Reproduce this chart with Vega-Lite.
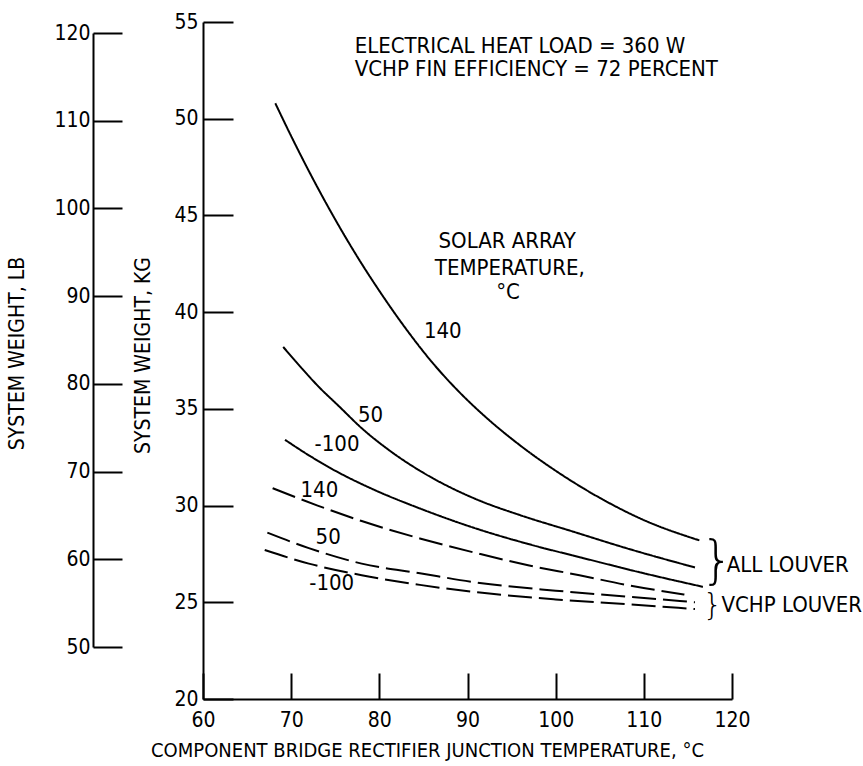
{
  "$schema": "https://vega.github.io/schema/vega-lite/v6.json",
  "width": 529,
  "height": 677,
  "autosize": {"type": "none"},
  "padding": {"left": 203, "top": 22, "right": 131, "bottom": 67},
  "background": "white",
  "config": {
    "view": {"stroke": null},
    "font": "Liberation Sans Narrow, DejaVu Sans Condensed, Liberation Sans, sans-serif",
    "axis": {
      "grid": false,
      "domainColor": "black",
      "domainWidth": 2,
      "tickColor": "black",
      "tickWidth": 2,
      "labelColor": "black",
      "labelFontSize": 21,
      "labelFlush": false,
      "titleColor": "black",
      "titleFontSize": 21,
      "titleFontWeight": "normal",
      "labelFont": "Liberation Sans Narrow, DejaVu Sans Condensed, Liberation Sans, sans-serif",
      "titleFont": "Liberation Sans Narrow, DejaVu Sans Condensed, Liberation Sans, sans-serif"
    },
    "text": {"font": "Liberation Sans Narrow, DejaVu Sans Condensed, Liberation Sans, sans-serif", "fontSize": 21, "color": "black"}
  },
  "datasets": {
    "curves": [
      {"s": "A140", "louver": "ALL", "temp": 68.2, "kg": 50.8},
      {"s": "A140", "louver": "ALL", "temp": 70.0, "kg": 49.1},
      {"s": "A140", "louver": "ALL", "temp": 72.0, "kg": 47.3},
      {"s": "A140", "louver": "ALL", "temp": 74.0, "kg": 45.6},
      {"s": "A140", "louver": "ALL", "temp": 76.0, "kg": 44.0},
      {"s": "A140", "louver": "ALL", "temp": 78.0, "kg": 42.5},
      {"s": "A140", "louver": "ALL", "temp": 80.0, "kg": 41.1},
      {"s": "A140", "louver": "ALL", "temp": 83.0, "kg": 39.15},
      {"s": "A140", "louver": "ALL", "temp": 86.0, "kg": 37.4},
      {"s": "A140", "louver": "ALL", "temp": 89.0, "kg": 35.9},
      {"s": "A140", "louver": "ALL", "temp": 92.0, "kg": 34.6},
      {"s": "A140", "louver": "ALL", "temp": 96.0, "kg": 33.1},
      {"s": "A140", "louver": "ALL", "temp": 100.0, "kg": 31.8},
      {"s": "A140", "louver": "ALL", "temp": 105.0, "kg": 30.4},
      {"s": "A140", "louver": "ALL", "temp": 110.0, "kg": 29.25},
      {"s": "A140", "louver": "ALL", "temp": 116.3, "kg": 28.2},
      {"s": "A50", "louver": "ALL", "temp": 69.1, "kg": 38.2},
      {"s": "A50", "louver": "ALL", "temp": 71.0, "kg": 37.2},
      {"s": "A50", "louver": "ALL", "temp": 73.0, "kg": 36.2},
      {"s": "A50", "louver": "ALL", "temp": 75.5, "kg": 35.1},
      {"s": "A50", "louver": "ALL", "temp": 78.0, "kg": 34.0},
      {"s": "A50", "louver": "ALL", "temp": 81.0, "kg": 32.9},
      {"s": "A50", "louver": "ALL", "temp": 84.6, "kg": 31.8},
      {"s": "A50", "louver": "ALL", "temp": 88.0, "kg": 30.95},
      {"s": "A50", "louver": "ALL", "temp": 91.4, "kg": 30.25},
      {"s": "A50", "louver": "ALL", "temp": 96.0, "kg": 29.5},
      {"s": "A50", "louver": "ALL", "temp": 102.0, "kg": 28.65},
      {"s": "A50", "louver": "ALL", "temp": 108.0, "kg": 27.8},
      {"s": "A50", "louver": "ALL", "temp": 115.8, "kg": 26.8},
      {"s": "A-100", "louver": "ALL", "temp": 69.3, "kg": 33.4},
      {"s": "A-100", "louver": "ALL", "temp": 72.0, "kg": 32.6},
      {"s": "A-100", "louver": "ALL", "temp": 75.0, "kg": 31.8},
      {"s": "A-100", "louver": "ALL", "temp": 79.0, "kg": 30.9},
      {"s": "A-100", "louver": "ALL", "temp": 84.6, "kg": 29.85},
      {"s": "A-100", "louver": "ALL", "temp": 91.4, "kg": 28.75},
      {"s": "A-100", "louver": "ALL", "temp": 97.0, "kg": 28.0},
      {"s": "A-100", "louver": "ALL", "temp": 103.0, "kg": 27.3},
      {"s": "A-100", "louver": "ALL", "temp": 110.0, "kg": 26.5},
      {"s": "A-100", "louver": "ALL", "temp": 116.7, "kg": 25.8},
      {"s": "V140", "louver": "VCHP", "temp": 67.9, "kg": 30.9},
      {"s": "V140", "louver": "VCHP", "temp": 73.0, "kg": 30.0},
      {"s": "V140", "louver": "VCHP", "temp": 78.0, "kg": 29.2},
      {"s": "V140", "louver": "VCHP", "temp": 84.6, "kg": 28.3},
      {"s": "V140", "louver": "VCHP", "temp": 91.4, "kg": 27.5},
      {"s": "V140", "louver": "VCHP", "temp": 97.0, "kg": 26.9},
      {"s": "V140", "louver": "VCHP", "temp": 102.7, "kg": 26.4},
      {"s": "V140", "louver": "VCHP", "temp": 108.0, "kg": 25.9},
      {"s": "V140", "louver": "VCHP", "temp": 114.6, "kg": 25.4},
      {"s": "V50", "louver": "VCHP", "temp": 67.3, "kg": 28.6},
      {"s": "V50", "louver": "VCHP", "temp": 72.0, "kg": 27.8},
      {"s": "V50", "louver": "VCHP", "temp": 78.0, "kg": 27.0},
      {"s": "V50", "louver": "VCHP", "temp": 84.6, "kg": 26.5},
      {"s": "V50", "louver": "VCHP", "temp": 91.4, "kg": 26.0},
      {"s": "V50", "louver": "VCHP", "temp": 100.0, "kg": 25.6},
      {"s": "V50", "louver": "VCHP", "temp": 108.0, "kg": 25.3},
      {"s": "V50", "louver": "VCHP", "temp": 115.8, "kg": 25.0},
      {"s": "V-100", "louver": "VCHP", "temp": 67.0, "kg": 27.7},
      {"s": "V-100", "louver": "VCHP", "temp": 72.0, "kg": 27.0},
      {"s": "V-100", "louver": "VCHP", "temp": 78.0, "kg": 26.4},
      {"s": "V-100", "louver": "VCHP", "temp": 84.6, "kg": 25.9},
      {"s": "V-100", "louver": "VCHP", "temp": 91.4, "kg": 25.5},
      {"s": "V-100", "louver": "VCHP", "temp": 100.0, "kg": 25.15},
      {"s": "V-100", "louver": "VCHP", "temp": 108.0, "kg": 24.9},
      {"s": "V-100", "louver": "VCHP", "temp": 115.8, "kg": 24.65}
    ],
    "header": [
      {"t": "ELECTRICAL HEAT LOAD = 360 W", "temp": 77.2, "kg": 53.76},
      {"t": "VCHP FIN EFFICIENCY = 72 PERCENT", "temp": 77.2, "kg": 52.57}
    ],
    "centered": [
      {"t": "SOLAR ARRAY", "temp": 94.5, "kg": 43.7},
      {"t": "TEMPERATURE,", "temp": 94.8, "kg": 42.3},
      {"t": "°C", "temp": 94.6, "kg": 41.05},
      {"t": "140", "temp": 87.2, "kg": 39.0},
      {"t": "50", "temp": 79.0, "kg": 34.7},
      {"t": "-100", "temp": 75.2, "kg": 33.2},
      {"t": "140", "temp": 73.2, "kg": 30.8},
      {"t": "50", "temp": 74.2, "kg": 28.4},
      {"t": "-100", "temp": 74.6, "kg": 26.0}
    ],
    "groups": [
      {"t": "ALL LOUVER", "temp": 119.4, "kg": 26.93},
      {"t": "VCHP LOUVER", "temp": 118.8, "kg": 24.86}
    ],
    "braceAll": [{"t": "}", "temp": 118.3, "kg": 27.15}],
    "braceVchp": [{"t": "}", "temp": 117.8, "kg": 24.8}],
    "lb": [{"temp": 60, "lb": 50}, {"temp": 60, "lb": 120}]
  },
  "layer": [
    {
      "layer": [
        {
          "data": {"name": "curves"},
          "mark": {"type": "line", "strokeWidth": 2, "color": "black", "interpolate": "monotone"},
          "encoding": {
            "x": {
              "field": "temp", "type": "quantitative",
              "scale": {"domain": [60, 120], "nice": false, "zero": false},
              "axis": {
                "values": [60, 70, 80, 90, 100, 110, 120],
                "tickSize": -26,
                "labelPadding": 36,
                "title": "COMPONENT BRIDGE RECTIFIER JUNCTION TEMPERATURE, °C",
                "titleFontSize": 20,
                "titleX": 224,
                "titleY": 51,
                "titleAlign": "center",
                "titleBaseline": "middle"
              }
            },
            "y": {
              "field": "kg", "type": "quantitative",
              "scale": {"domain": [20, 55], "nice": false, "zero": false},
              "axis": {
                "values": [20, 25, 30, 35, 40, 45, 50, 55],
                "tickSize": -30,
                "labelPadding": 35,
                "title": "SYSTEM WEIGHT,  KG",
                "titleX": -60,
                "titleY": 333,
                "titleAlign": "center",
                "titleBaseline": "middle"
              }
            },
            "detail": {"field": "s"},
            "strokeDash": {
              "field": "louver", "type": "nominal",
              "scale": {"domain": ["ALL", "VCHP"], "range": [[1, 0], [24, 7]]},
              "legend": null
            }
          }
        },
        {
          "data": {"name": "header"},
          "mark": {"type": "text", "align": "left", "baseline": "middle", "fontSize": 22},
          "encoding": {
            "x": {"field": "temp", "type": "quantitative"},
            "y": {"field": "kg", "type": "quantitative"},
            "text": {"field": "t"}
          }
        },
        {
          "data": {"name": "centered"},
          "mark": {"type": "text", "align": "center", "baseline": "middle", "fontSize": 22},
          "encoding": {
            "x": {"field": "temp", "type": "quantitative"},
            "y": {"field": "kg", "type": "quantitative"},
            "text": {"field": "t"}
          }
        },
        {
          "data": {"name": "groups"},
          "mark": {"type": "text", "align": "left", "baseline": "middle", "fontSize": 22},
          "encoding": {
            "x": {"field": "temp", "type": "quantitative"},
            "y": {"field": "kg", "type": "quantitative"},
            "text": {"field": "t"}
          }
        },
        {
          "data": {"name": "braceAll"},
          "mark": {"type": "text", "align": "center", "baseline": "middle", "fontSize": 52, "font": "DejaVu Sans", "fontWeight": 200},
          "encoding": {
            "x": {"field": "temp", "type": "quantitative"},
            "y": {"field": "kg", "type": "quantitative"},
            "text": {"field": "t"}
          }
        },
        {
          "data": {"name": "braceVchp"},
          "mark": {"type": "text", "align": "center", "baseline": "middle", "fontSize": 31, "font": "DejaVu Sans", "fontWeight": 200},
          "encoding": {
            "x": {"field": "temp", "type": "quantitative"},
            "y": {"field": "kg", "type": "quantitative"},
            "text": {"field": "t"}
          }
        }
      ]
    },
    {
      "data": {"name": "lb"},
      "mark": {"type": "point", "opacity": 0},
      "encoding": {
        "x": {"field": "temp", "type": "quantitative"},
        "y": {
          "field": "lb", "type": "quantitative",
          "scale": {"domain": [44.0924, 121.254], "nice": false, "zero": false},
          "axis": {
            "orient": "left",
            "offset": 110,
            "values": [50, 60, 70, 80, 90, 100, 110, 120],
            "tickSize": -29,
            "labelPadding": 32,
            "domainDash": [0, 52, 614, 200],
            "title": "SYSTEM WEIGHT,  LB",
            "titleX": -76,
            "titleY": 331,
            "titleAlign": "center",
            "titleBaseline": "middle"
          }
        }
      }
    }
  ],
  "resolve": {"scale": {"y": "independent"}}
}
